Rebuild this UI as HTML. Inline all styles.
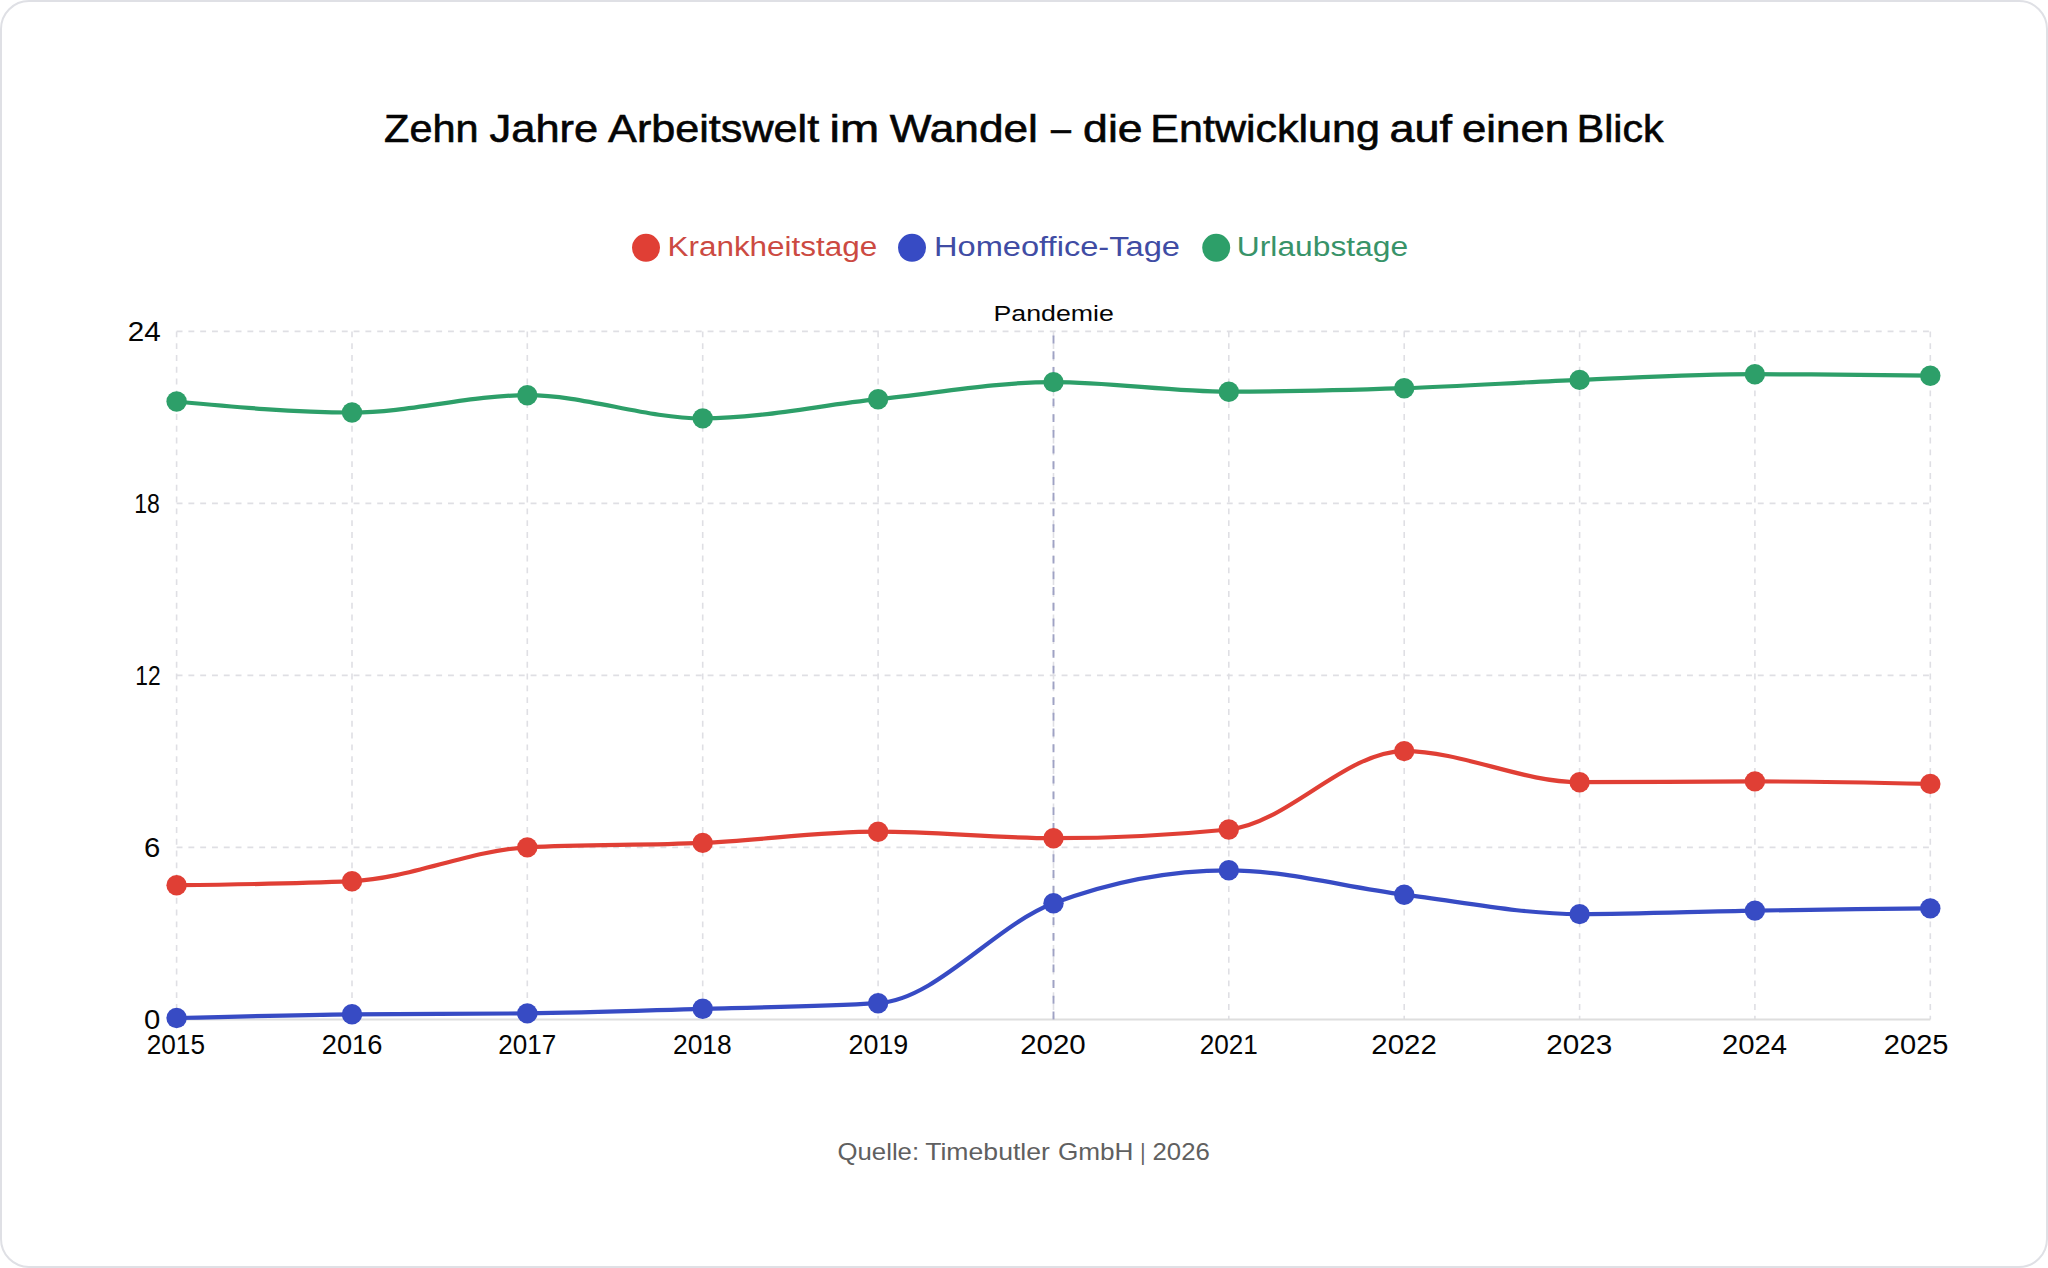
<!DOCTYPE html>
<html lang="de"><head><meta charset="utf-8"><title>Zehn Jahre Arbeitswelt im Wandel</title>
<style>
html,body{margin:0;padding:0;background:#fff;}
body{width:2048px;height:1268px;overflow:hidden;position:relative;font-family:"Liberation Sans",Arial,sans-serif;}
.card{position:absolute;left:0;top:0;width:2044px;height:1264px;border:2px solid #dfe0e5;border-radius:29px;background:#fff;}
svg{position:absolute;left:0;top:0;}
.g{stroke:#dfdfe4;stroke-width:1.6;stroke-dasharray:5.9 5.9;}
text{font-family:"Liberation Sans",Arial,sans-serif;}
.yl{font-size:28.5px;fill:#050505;}
.xl{font-size:28px;fill:#050505;}
.pl{font-size:22px;fill:#050505;}
.lg{font-size:27px;}
.ti{font-size:38.5px;fill:#050505;stroke:#050505;stroke-width:0.6px;}
.ft{font-size:24px;fill:#606060;}
</style></head>
<body>
<div class="card"></div>
<svg width="2048" height="1268" viewBox="0 0 2048 1268">
<line x1="176.6" y1="847.4" x2="1930.3" y2="847.4" class="g"/>
<line x1="176.6" y1="675.4" x2="1930.3" y2="675.4" class="g"/>
<line x1="176.6" y1="503.4" x2="1930.3" y2="503.4" class="g"/>
<line x1="176.6" y1="331.4" x2="1930.3" y2="331.4" class="g"/>
<line x1="176.6" y1="331.4" x2="176.6" y2="1019.4" class="g"/>
<line x1="352.0" y1="331.4" x2="352.0" y2="1019.4" class="g"/>
<line x1="527.3" y1="331.4" x2="527.3" y2="1019.4" class="g"/>
<line x1="702.7" y1="331.4" x2="702.7" y2="1019.4" class="g"/>
<line x1="878.1" y1="331.4" x2="878.1" y2="1019.4" class="g"/>
<line x1="1053.5" y1="331.4" x2="1053.5" y2="1019.4" class="g"/>
<line x1="1228.8" y1="331.4" x2="1228.8" y2="1019.4" class="g"/>
<line x1="1404.2" y1="331.4" x2="1404.2" y2="1019.4" class="g"/>
<line x1="1579.6" y1="331.4" x2="1579.6" y2="1019.4" class="g"/>
<line x1="1754.9" y1="331.4" x2="1754.9" y2="1019.4" class="g"/>
<line x1="1930.3" y1="331.4" x2="1930.3" y2="1019.4" class="g"/>
<line x1="176.6" y1="1019.4" x2="1930.3" y2="1019.4" stroke="#dedede" stroke-width="2"/>
<line x1="1053.5" y1="1019.4" x2="1053.5" y2="331.4" stroke="#9fa2c4" stroke-width="1.9" stroke-dasharray="7.86 7.86"/>
<text x="143.97" y="1029.00" class="yl" textLength="16.31" lengthAdjust="spacingAndGlyphs">0</text>
<text x="144.07" y="857.00" class="yl" textLength="16.31" lengthAdjust="spacingAndGlyphs">6</text>
<text x="135.30" y="685.00" class="yl" textLength="25.36" lengthAdjust="spacingAndGlyphs">12</text>
<text x="134.19" y="513.00" class="yl" textLength="25.58" lengthAdjust="spacingAndGlyphs">18</text>
<text x="127.66" y="341.00" class="yl" textLength="32.97" lengthAdjust="spacingAndGlyphs">24</text>
<text x="146.77" y="1054.30" class="xl" textLength="58.21" lengthAdjust="spacingAndGlyphs">2015</text>
<text x="321.73" y="1054.30" class="xl" textLength="60.64" lengthAdjust="spacingAndGlyphs">2016</text>
<text x="498.27" y="1054.30" class="xl" textLength="57.83" lengthAdjust="spacingAndGlyphs">2017</text>
<text x="672.96" y="1054.30" class="xl" textLength="58.72" lengthAdjust="spacingAndGlyphs">2018</text>
<text x="848.54" y="1054.30" class="xl" textLength="59.70" lengthAdjust="spacingAndGlyphs">2019</text>
<text x="1020.15" y="1054.30" class="xl" textLength="65.56" lengthAdjust="spacingAndGlyphs">2020</text>
<text x="1199.77" y="1054.30" class="xl" textLength="58.14" lengthAdjust="spacingAndGlyphs">2021</text>
<text x="1371.35" y="1054.30" class="xl" textLength="65.41" lengthAdjust="spacingAndGlyphs">2022</text>
<text x="1546.34" y="1054.30" class="xl" textLength="66.03" lengthAdjust="spacingAndGlyphs">2023</text>
<text x="1721.95" y="1054.30" class="xl" textLength="65.16" lengthAdjust="spacingAndGlyphs">2024</text>
<text x="1883.86" y="1054.30" class="xl" textLength="64.65" lengthAdjust="spacingAndGlyphs">2025</text>
<text x="993.49" y="321.10" class="pl" textLength="120.32" lengthAdjust="spacingAndGlyphs">Pandemie</text>
<path d="M176.60,401.50C235.06,407.00,293.51,412.50,351.97,412.50C410.43,412.50,468.88,395.20,527.34,395.20C585.80,395.20,644.25,418.40,702.71,418.40C761.17,418.40,819.62,405.25,878.08,399.20C936.54,393.15,994.99,382.10,1053.45,382.10C1111.91,382.10,1170.36,391.70,1228.82,391.70C1287.28,391.70,1345.73,390.17,1404.19,388.20C1462.65,386.23,1521.10,382.23,1579.56,379.90C1638.02,377.57,1696.47,374.20,1754.93,374.20C1813.39,374.20,1871.84,374.95,1930.30,375.70" fill="none" stroke="#2d9f69" stroke-width="4.2"/>
<path d="M176.60,885.20C235.06,884.53,293.51,883.87,351.97,881.20C410.43,878.53,468.88,850.40,527.34,847.40C585.80,844.40,644.25,845.52,702.71,842.90C761.17,840.28,819.62,831.70,878.08,831.70C936.54,831.70,994.99,838.20,1053.45,838.20C1111.91,838.20,1170.36,835.30,1228.82,829.50C1287.28,823.70,1345.73,751.10,1404.19,751.10C1462.65,751.10,1521.10,782.20,1579.56,782.20C1638.02,782.20,1696.47,781.40,1754.93,781.40C1813.39,781.40,1871.84,782.65,1930.30,783.90" fill="none" stroke="#e03f35" stroke-width="4.2"/>
<path d="M176.60,1018.00C235.06,1016.45,293.51,1014.90,351.97,1014.30C410.43,1013.70,468.88,1014.00,527.34,1013.40C585.80,1012.80,644.25,1010.50,702.71,1008.80C761.17,1007.10,819.62,1006.93,878.08,1003.20C936.54,999.47,994.99,925.30,1053.45,903.30C1111.91,881.30,1170.36,870.30,1228.82,870.30C1287.28,870.30,1345.73,887.40,1404.19,894.70C1462.65,902.00,1521.10,914.10,1579.56,914.10C1638.02,914.10,1696.47,911.55,1754.93,910.60C1813.39,909.65,1871.84,909.02,1930.30,908.40" fill="none" stroke="#374bc4" stroke-width="4.2"/>
<circle cx="176.6" cy="401.5" r="10.2" fill="#2d9f69"/>
<circle cx="352.0" cy="412.5" r="10.2" fill="#2d9f69"/>
<circle cx="527.3" cy="395.2" r="10.2" fill="#2d9f69"/>
<circle cx="702.7" cy="418.4" r="10.2" fill="#2d9f69"/>
<circle cx="878.1" cy="399.2" r="10.2" fill="#2d9f69"/>
<circle cx="1053.5" cy="382.1" r="10.2" fill="#2d9f69"/>
<circle cx="1228.8" cy="391.7" r="10.2" fill="#2d9f69"/>
<circle cx="1404.2" cy="388.2" r="10.2" fill="#2d9f69"/>
<circle cx="1579.6" cy="379.9" r="10.2" fill="#2d9f69"/>
<circle cx="1754.9" cy="374.2" r="10.2" fill="#2d9f69"/>
<circle cx="1930.3" cy="375.7" r="10.2" fill="#2d9f69"/>
<circle cx="176.6" cy="885.2" r="10.2" fill="#e03f35"/>
<circle cx="352.0" cy="881.2" r="10.2" fill="#e03f35"/>
<circle cx="527.3" cy="847.4" r="10.2" fill="#e03f35"/>
<circle cx="702.7" cy="842.9" r="10.2" fill="#e03f35"/>
<circle cx="878.1" cy="831.7" r="10.2" fill="#e03f35"/>
<circle cx="1053.5" cy="838.2" r="10.2" fill="#e03f35"/>
<circle cx="1228.8" cy="829.5" r="10.2" fill="#e03f35"/>
<circle cx="1404.2" cy="751.1" r="10.2" fill="#e03f35"/>
<circle cx="1579.6" cy="782.2" r="10.2" fill="#e03f35"/>
<circle cx="1754.9" cy="781.4" r="10.2" fill="#e03f35"/>
<circle cx="1930.3" cy="783.9" r="10.2" fill="#e03f35"/>
<circle cx="176.6" cy="1018.0" r="10.2" fill="#374bc4"/>
<circle cx="352.0" cy="1014.3" r="10.2" fill="#374bc4"/>
<circle cx="527.3" cy="1013.4" r="10.2" fill="#374bc4"/>
<circle cx="702.7" cy="1008.8" r="10.2" fill="#374bc4"/>
<circle cx="878.1" cy="1003.2" r="10.2" fill="#374bc4"/>
<circle cx="1053.5" cy="903.3" r="10.2" fill="#374bc4"/>
<circle cx="1228.8" cy="870.3" r="10.2" fill="#374bc4"/>
<circle cx="1404.2" cy="894.7" r="10.2" fill="#374bc4"/>
<circle cx="1579.6" cy="914.1" r="10.2" fill="#374bc4"/>
<circle cx="1754.9" cy="910.6" r="10.2" fill="#374bc4"/>
<circle cx="1930.3" cy="908.4" r="10.2" fill="#374bc4"/>
<circle cx="646.0" cy="247.8" r="14" fill="#e03f35"/>
<circle cx="912.0" cy="247.8" r="14" fill="#374bc4"/>
<circle cx="1216.2" cy="247.8" r="14" fill="#2d9f69"/>
<text x="667.47" y="255.90" class="lg" fill="#cc4a42" textLength="209.74" lengthAdjust="spacingAndGlyphs">Krankheitstage</text>
<text x="933.98" y="255.90" class="lg" fill="#404ca4" textLength="245.95" lengthAdjust="spacingAndGlyphs">Homeoffice-Tage</text>
<text x="1236.85" y="255.90" class="lg" fill="#389369" textLength="171.25" lengthAdjust="spacingAndGlyphs">Urlaubstage</text>
<text x="384.12" y="141.80" class="ti" textLength="94.48" lengthAdjust="spacingAndGlyphs">Zehn</text>
<text x="489.60" y="141.80" class="ti" textLength="108.58" lengthAdjust="spacingAndGlyphs">Jahre</text>
<text x="608.10" y="141.80" class="ti" textLength="211.11" lengthAdjust="spacingAndGlyphs">Arbeitswelt</text>
<text x="829.56" y="141.80" class="ti" textLength="49.63" lengthAdjust="spacingAndGlyphs">im</text>
<text x="889.70" y="141.80" class="ti" textLength="148.24" lengthAdjust="spacingAndGlyphs">Wandel</text>
<text x="1050.93" y="141.80" class="ti" textLength="19.93" lengthAdjust="spacingAndGlyphs">–</text>
<text x="1083.14" y="141.80" class="ti" textLength="59.47" lengthAdjust="spacingAndGlyphs">die</text>
<text x="1150.35" y="141.80" class="ti" textLength="229.46" lengthAdjust="spacingAndGlyphs">Entwicklung</text>
<text x="1389.43" y="141.80" class="ti" textLength="62.62" lengthAdjust="spacingAndGlyphs">auf</text>
<text x="1462.06" y="141.80" class="ti" textLength="107.04" lengthAdjust="spacingAndGlyphs">einen</text>
<text x="1576.79" y="141.80" class="ti" textLength="86.85" lengthAdjust="spacingAndGlyphs">Blick</text>
<text x="837.53" y="1159.60" class="ft" textLength="81.57" lengthAdjust="spacingAndGlyphs">Quelle:</text>
<text x="925.20" y="1159.60" class="ft" textLength="124.73" lengthAdjust="spacingAndGlyphs">Timebutler</text>
<text x="1057.91" y="1159.60" class="ft" textLength="75.55" lengthAdjust="spacingAndGlyphs">GmbH</text>
<text x="1140.13" y="1159.60" class="ft" textLength="5.20" lengthAdjust="spacingAndGlyphs">|</text>
<text x="1152.53" y="1159.60" class="ft" textLength="57.29" lengthAdjust="spacingAndGlyphs">2026</text>
</svg>
</body></html>
